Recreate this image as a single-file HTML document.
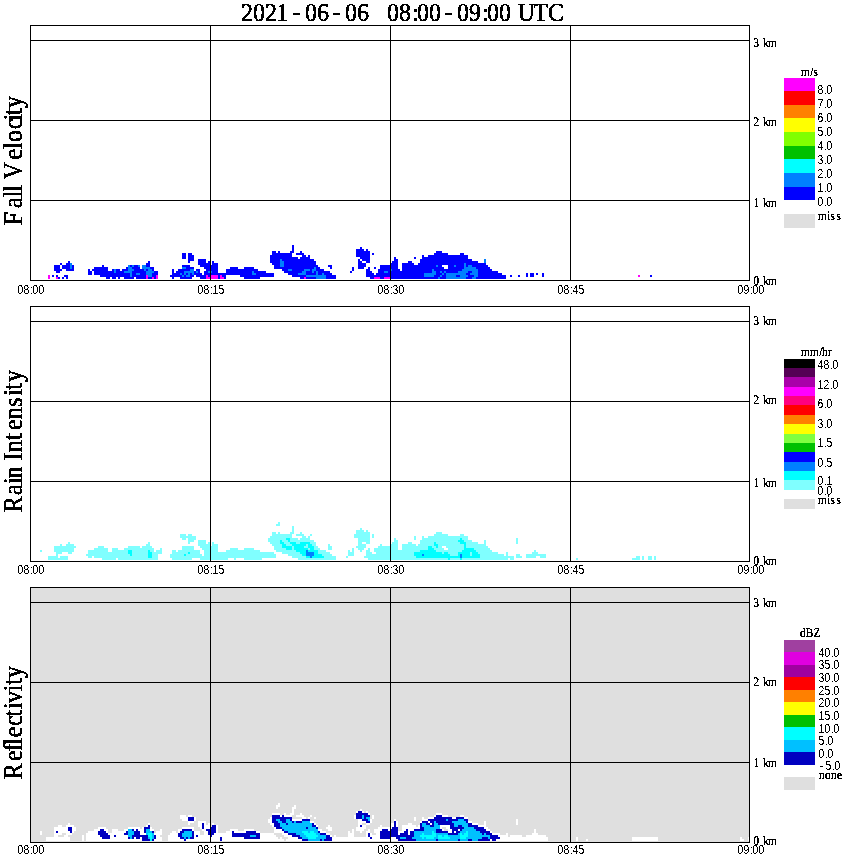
<!DOCTYPE html><html><head><meta charset="utf-8"><title>MRR 2021-06-06 08:00-09:00 UTC</title><style>html,body{margin:0;padding:0;background:#fff}svg{display:block}</style></head><body><svg width="850" height="868" viewBox="0 0 850 868" shape-rendering="crispEdges"><rect width="850" height="868" fill="#fff"/><rect x="31" y="588" width="718" height="254" fill="#dfdfdf"/><path fill="#0000ff" d="M292 245h2v2h-2zM292 247h2v2h-2zM360 247h2v2h-2zM292 249h2v2h-2zM356 249h8v2h-8zM366 249h2v2h-2zM272 251h4v2h-4zM278 251h2v2h-2zM290 251h4v2h-4zM300 251h2v2h-2zM356 251h14v2h-14zM436 251h6v2h-6zM182 253h4v2h-4zM188 253h4v2h-4zM272 253h20v2h-20zM296 253h8v2h-8zM356 253h14v2h-14zM372 253h2v2h-2zM434 253h14v2h-14zM460 253h4v2h-4zM182 255h4v2h-4zM188 255h6v2h-6zM270 255h22v2h-22zM302 255h4v2h-4zM308 255h2v2h-2zM356 255h14v2h-14zM422 255h2v2h-2zM428 255h40v2h-40zM182 257h4v2h-4zM188 257h6v2h-6zM270 257h28v2h-28zM300 257h10v2h-10zM360 257h10v2h-10zM394 257h2v2h-2zM414 257h2v2h-2zM422 257h46v2h-46zM188 259h6v2h-6zM198 259h8v2h-8zM270 259h10v2h-10zM282 259h32v2h-32zM358 259h2v2h-2zM362 259h8v2h-8zM394 259h4v2h-4zM420 259h52v2h-52zM68 261h2v2h-2zM148 261h2v2h-2zM188 261h2v2h-2zM198 261h8v2h-8zM208 261h2v2h-2zM212 261h2v2h-2zM270 261h10v2h-10zM284 261h32v2h-32zM358 261h4v2h-4zM366 261h4v2h-4zM392 261h6v2h-6zM408 261h4v2h-4zM420 261h58v2h-58zM60 263h2v2h-2zM66 263h4v2h-4zM146 263h4v2h-4zM198 263h12v2h-12zM212 263h6v2h-6zM272 263h8v2h-8zM284 263h32v2h-32zM358 263h8v2h-8zM390 263h8v2h-8zM402 263h12v2h-12zM418 263h46v2h-46zM466 263h20v2h-20zM54 265h6v2h-6zM62 265h8v2h-8zM72 265h2v2h-2zM102 265h2v2h-2zM130 265h2v2h-2zM134 265h4v2h-4zM146 265h4v2h-4zM182 265h8v2h-8zM200 265h18v2h-18zM274 265h6v2h-6zM284 265h34v2h-34zM328 265h4v2h-4zM358 265h8v2h-8zM380 265h18v2h-18zM402 265h34v2h-34zM438 265h4v2h-4zM448 265h6v2h-6zM456 265h8v2h-8zM466 265h2v2h-2zM472 265h16v2h-16zM54 267h6v2h-6zM62 267h8v2h-8zM72 267h2v2h-2zM94 267h14v2h-14zM126 267h2v2h-2zM132 267h8v2h-8zM150 267h4v2h-4zM186 267h8v2h-8zM204 267h14v2h-14zM230 267h8v2h-8zM244 267h10v2h-10zM274 267h40v2h-40zM316 267h4v2h-4zM330 267h2v2h-2zM352 267h2v2h-2zM358 267h6v2h-6zM368 267h2v2h-2zM374 267h2v2h-2zM380 267h18v2h-18zM402 267h42v2h-42zM448 267h16v2h-16zM476 267h14v2h-14zM54 269h8v2h-8zM66 269h8v2h-8zM88 269h2v2h-2zM92 269h16v2h-16zM112 269h2v2h-2zM116 269h4v2h-4zM122 269h6v2h-6zM134 269h10v2h-10zM146 269h2v2h-2zM152 269h2v2h-2zM172 269h2v2h-2zM178 269h12v2h-12zM196 269h4v2h-4zM206 269h12v2h-12zM226 269h32v2h-32zM282 269h6v2h-6zM292 269h12v2h-12zM310 269h2v2h-2zM316 269h8v2h-8zM352 269h2v2h-2zM366 269h4v2h-4zM378 269h12v2h-12zM392 269h8v2h-8zM402 269h30v2h-30zM434 269h28v2h-28zM478 269h14v2h-14zM56 271h4v2h-4zM88 271h4v2h-4zM94 271h20v2h-20zM116 271h8v2h-8zM132 271h14v2h-14zM154 271h4v2h-4zM172 271h2v2h-2zM176 271h8v2h-8zM194 271h2v2h-2zM198 271h2v2h-2zM204 271h4v2h-4zM212 271h6v2h-6zM226 271h26v2h-26zM254 271h12v2h-12zM284 271h18v2h-18zM306 271h6v2h-6zM314 271h2v2h-2zM318 271h12v2h-12zM350 271h2v2h-2zM366 271h6v2h-6zM378 271h6v2h-6zM388 271h44v2h-44zM436 271h4v2h-4zM442 271h2v2h-2zM446 271h12v2h-12zM468 271h4v2h-4zM478 271h20v2h-20zM88 273h4v2h-4zM94 273h36v2h-36zM132 273h4v2h-4zM140 273h6v2h-6zM152 273h6v2h-6zM172 273h8v2h-8zM182 273h2v2h-2zM186 273h2v2h-2zM190 273h2v2h-2zM194 273h8v2h-8zM204 273h48v2h-48zM256 273h18v2h-18zM288 273h10v2h-10zM306 273h10v2h-10zM318 273h4v2h-4zM324 273h8v2h-8zM366 273h8v2h-8zM376 273h48v2h-48zM436 273h6v2h-6zM444 273h2v2h-2zM466 273h4v2h-4zM478 273h24v2h-24zM526 273h2v2h-2zM530 273h4v2h-4zM536 273h2v2h-2zM542 273h2v2h-2zM52 275h2v2h-2zM56 275h2v2h-2zM64 275h4v2h-4zM100 275h30v2h-30zM132 275h14v2h-14zM152 275h4v2h-4zM170 275h12v2h-12zM184 275h2v2h-2zM190 275h4v2h-4zM196 275h10v2h-10zM208 275h2v2h-2zM218 275h2v2h-2zM222 275h4v2h-4zM240 275h34v2h-34zM292 275h14v2h-14zM326 275h10v2h-10zM366 275h58v2h-58zM434 275h6v2h-6zM442 275h4v2h-4zM456 275h4v2h-4zM468 275h6v2h-6zM478 275h28v2h-28zM510 275h2v2h-2zM518 275h2v2h-2zM526 275h2v2h-2zM530 275h4v2h-4zM542 275h2v2h-2zM650 275h2v2h-2zM58 277h2v2h-2zM62 277h2v2h-2zM66 277h2v2h-2zM106 277h4v2h-4zM112 277h4v2h-4zM118 277h2v2h-2zM124 277h10v2h-10zM136 277h10v2h-10zM148 277h4v2h-4zM154 277h2v2h-2zM172 277h2v2h-2zM180 277h12v2h-12zM200 277h6v2h-6zM218 277h2v2h-2zM224 277h2v2h-2zM244 277h16v2h-16zM300 277h4v2h-4zM306 277h10v2h-10zM326 277h10v2h-10zM370 277h4v2h-4zM380 277h4v2h-4zM390 277h48v2h-48zM440 277h6v2h-6zM466 277h6v2h-6zM476 277h30v2h-30z"/><path fill="#0080ff" d="M280 259h2v2h-2zM484 259h2v2h-2zM280 261h4v2h-4zM484 261h2v2h-2zM70 263h2v2h-2zM280 263h4v2h-4zM464 263h2v2h-2zM70 265h2v2h-2zM128 265h2v2h-2zM132 265h2v2h-2zM138 265h2v2h-2zM142 265h4v2h-4zM280 265h4v2h-4zM436 265h2v2h-2zM454 265h2v2h-2zM464 265h2v2h-2zM468 265h4v2h-4zM70 267h2v2h-2zM128 267h4v2h-4zM142 267h8v2h-8zM182 267h4v2h-4zM314 267h2v2h-2zM464 267h12v2h-12zM114 269h2v2h-2zM128 269h6v2h-6zM144 269h2v2h-2zM148 269h4v2h-4zM190 269h4v2h-4zM288 269h4v2h-4zM304 269h6v2h-6zM312 269h4v2h-4zM390 269h2v2h-2zM432 269h2v2h-2zM462 269h16v2h-16zM114 271h2v2h-2zM124 271h8v2h-8zM146 271h8v2h-8zM184 271h10v2h-10zM196 271h2v2h-2zM208 271h4v2h-4zM252 271h2v2h-2zM302 271h4v2h-4zM312 271h2v2h-2zM316 271h2v2h-2zM384 271h4v2h-4zM432 271h4v2h-4zM440 271h2v2h-2zM444 271h2v2h-2zM458 271h10v2h-10zM472 271h6v2h-6zM130 273h2v2h-2zM136 273h4v2h-4zM146 273h6v2h-6zM180 273h2v2h-2zM184 273h2v2h-2zM188 273h2v2h-2zM192 273h2v2h-2zM252 273h4v2h-4zM298 273h8v2h-8zM316 273h2v2h-2zM322 273h2v2h-2zM424 273h12v2h-12zM442 273h2v2h-2zM446 273h20v2h-20zM470 273h8v2h-8zM130 275h2v2h-2zM148 275h4v2h-4zM182 275h2v2h-2zM186 275h4v2h-4zM306 275h20v2h-20zM424 275h10v2h-10zM440 275h2v2h-2zM446 275h10v2h-10zM460 275h8v2h-8zM474 275h4v2h-4zM316 277h10v2h-10zM438 277h2v2h-2zM446 277h20v2h-20zM472 277h4v2h-4z"/><path fill="#ff00ff" d="M48 275h2v2h-2zM146 275h2v2h-2zM156 275h2v2h-2zM206 275h2v2h-2zM210 275h8v2h-8zM220 275h2v2h-2zM638 275h2v2h-2zM48 277h2v2h-2zM56 277h2v2h-2zM146 277h2v2h-2zM152 277h2v2h-2zM156 277h2v2h-2zM206 277h12v2h-12zM220 277h4v2h-4zM304 277h2v2h-2zM374 277h6v2h-6zM384 277h6v2h-6z"/><path fill="#80ffff" d="M278 522h2v2h-2zM276 524h4v2h-4zM292 526h2v2h-2zM292 528h2v2h-2zM360 528h2v2h-2zM292 530h2v2h-2zM356 530h8v2h-8zM366 530h2v2h-2zM272 532h4v2h-4zM278 532h2v2h-2zM290 532h4v2h-4zM300 532h2v2h-2zM356 532h14v2h-14zM436 532h6v2h-6zM180 534h6v2h-6zM188 534h4v2h-4zM272 534h20v2h-20zM296 534h8v2h-8zM310 534h2v2h-2zM354 534h16v2h-16zM372 534h2v2h-2zM434 534h14v2h-14zM460 534h4v2h-4zM180 536h16v2h-16zM270 536h22v2h-22zM302 536h4v2h-4zM308 536h2v2h-2zM354 536h16v2h-16zM372 536h2v2h-2zM414 536h2v2h-2zM422 536h2v2h-2zM428 536h40v2h-40zM182 538h4v2h-4zM188 538h8v2h-8zM268 538h18v2h-18zM290 538h8v2h-8zM300 538h10v2h-10zM358 538h12v2h-12zM394 538h2v2h-2zM414 538h2v2h-2zM422 538h38v2h-38zM462 538h6v2h-6zM516 538h2v2h-2zM188 540h6v2h-6zM198 540h8v2h-8zM268 540h12v2h-12zM282 540h6v2h-6zM290 540h24v2h-24zM358 540h12v2h-12zM394 540h4v2h-4zM420 540h38v2h-38zM464 540h8v2h-8zM484 540h2v2h-2zM516 540h2v2h-2zM68 542h2v2h-2zM148 542h2v2h-2zM188 542h2v2h-2zM198 542h8v2h-8zM208 542h2v2h-2zM212 542h2v2h-2zM270 542h10v2h-10zM284 542h6v2h-6zM296 542h4v2h-4zM310 542h6v2h-6zM358 542h4v2h-4zM366 542h4v2h-4zM392 542h6v2h-6zM408 542h4v2h-4zM420 542h14v2h-14zM436 542h24v2h-24zM466 542h12v2h-12zM484 542h2v2h-2zM516 542h2v2h-2zM60 544h2v2h-2zM66 544h8v2h-8zM146 544h4v2h-4zM198 544h12v2h-12zM212 544h6v2h-6zM272 544h10v2h-10zM286 544h6v2h-6zM306 544h2v2h-2zM312 544h4v2h-4zM328 544h2v2h-2zM358 544h8v2h-8zM380 544h2v2h-2zM390 544h8v2h-8zM402 544h14v2h-14zM418 544h16v2h-16zM438 544h26v2h-26zM466 544h20v2h-20zM54 546h22v2h-22zM98 546h6v2h-6zM128 546h12v2h-12zM142 546h10v2h-10zM182 546h12v2h-12zM200 546h18v2h-18zM274 546h8v2h-8zM292 546h2v2h-2zM304 546h4v2h-4zM314 546h4v2h-4zM328 546h4v2h-4zM356 546h10v2h-10zM378 546h20v2h-20zM402 546h26v2h-26zM432 546h4v2h-4zM438 546h4v2h-4zM446 546h18v2h-18zM466 546h22v2h-22zM54 548h20v2h-20zM94 548h14v2h-14zM112 548h6v2h-6zM124 548h30v2h-30zM160 548h2v2h-2zM182 548h12v2h-12zM202 548h16v2h-16zM230 548h8v2h-8zM244 548h10v2h-10zM274 548h12v2h-12zM292 548h2v2h-2zM308 548h2v2h-2zM314 548h6v2h-6zM328 548h4v2h-4zM352 548h2v2h-2zM358 548h6v2h-6zM368 548h2v2h-2zM374 548h24v2h-24zM402 548h26v2h-26zM434 548h10v2h-10zM448 548h16v2h-16zM474 548h16v2h-16zM40 550h2v2h-2zM54 550h20v2h-20zM88 550h20v2h-20zM112 550h16v2h-16zM132 550h16v2h-16zM150 550h4v2h-4zM156 550h6v2h-6zM172 550h4v2h-4zM178 550h22v2h-22zM204 550h14v2h-14zM226 550h34v2h-34zM276 550h20v2h-20zM318 550h8v2h-8zM348 550h2v2h-2zM352 550h2v2h-2zM360 550h2v2h-2zM366 550h4v2h-4zM374 550h46v2h-46zM436 550h26v2h-26zM476 550h16v2h-16zM534 550h2v2h-2zM56 552h6v2h-6zM68 552h4v2h-4zM88 552h40v2h-40zM132 552h16v2h-16zM152 552h10v2h-10zM172 552h16v2h-16zM190 552h10v2h-10zM204 552h70v2h-70zM282 552h18v2h-18zM318 552h12v2h-12zM348 552h6v2h-6zM366 552h6v2h-6zM376 552h38v2h-38zM442 552h2v2h-2zM448 552h10v2h-10zM470 552h2v2h-2zM478 552h20v2h-20zM506 552h2v2h-2zM532 552h6v2h-6zM56 554h2v2h-2zM86 554h44v2h-44zM132 554h16v2h-16zM152 554h6v2h-6zM170 554h14v2h-14zM186 554h16v2h-16zM204 554h72v2h-72zM288 554h14v2h-14zM322 554h10v2h-10zM348 554h6v2h-6zM366 554h48v2h-48zM450 554h8v2h-8zM470 554h2v2h-2zM480 554h24v2h-24zM506 554h2v2h-2zM516 554h4v2h-4zM526 554h20v2h-20zM48 556h10v2h-10zM60 556h8v2h-8zM88 556h4v2h-4zM94 556h54v2h-54zM152 556h6v2h-6zM170 556h106v2h-106zM292 556h14v2h-14zM324 556h12v2h-12zM346 556h2v2h-2zM364 556h52v2h-52zM480 556h34v2h-34zM516 556h6v2h-6zM526 556h10v2h-10zM540 556h6v2h-6zM636 556h4v2h-4zM642 556h2v2h-2zM648 556h4v2h-4zM654 556h2v2h-2zM48 558h20v2h-20zM102 558h14v2h-14zM118 558h40v2h-40zM172 558h20v2h-20zM200 558h28v2h-28zM234 558h2v2h-2zM244 558h18v2h-18zM298 558h38v2h-38zM368 558h80v2h-80zM450 558h10v2h-10zM462 558h46v2h-46zM510 558h4v2h-4zM576 558h2v2h-2zM632 558h8v2h-8zM642 558h2v2h-2zM648 558h4v2h-4zM654 558h2v2h-2z"/><path fill="#00ffff" d="M286 538h4v2h-4zM460 538h2v2h-2zM280 540h2v2h-2zM288 540h2v2h-2zM458 540h6v2h-6zM280 542h4v2h-4zM290 542h6v2h-6zM300 542h10v2h-10zM434 542h2v2h-2zM460 542h6v2h-6zM282 544h4v2h-4zM292 544h14v2h-14zM308 544h4v2h-4zM434 544h4v2h-4zM464 544h2v2h-2zM282 546h10v2h-10zM294 546h10v2h-10zM308 546h6v2h-6zM428 546h4v2h-4zM436 546h2v2h-2zM464 546h2v2h-2zM286 548h6v2h-6zM294 548h14v2h-14zM310 548h4v2h-4zM428 548h6v2h-6zM464 548h10v2h-10zM128 550h4v2h-4zM148 550h2v2h-2zM296 550h10v2h-10zM308 550h10v2h-10zM420 550h16v2h-16zM462 550h14v2h-14zM128 552h4v2h-4zM148 552h4v2h-4zM188 552h2v2h-2zM300 552h6v2h-6zM314 552h4v2h-4zM414 552h28v2h-28zM444 552h4v2h-4zM458 552h12v2h-12zM472 552h6v2h-6zM130 554h2v2h-2zM148 554h4v2h-4zM184 554h2v2h-2zM302 554h4v2h-4zM314 554h8v2h-8zM414 554h8v2h-8zM424 554h26v2h-26zM458 554h2v2h-2zM462 554h8v2h-8zM472 554h8v2h-8zM148 556h4v2h-4zM306 556h4v2h-4zM312 556h12v2h-12zM416 556h44v2h-44zM462 556h18v2h-18zM448 558h2v2h-2zM460 558h2v2h-2z"/><path fill="#0080ff" d="M306 550h2v2h-2zM306 552h8v2h-8zM306 554h8v2h-8zM422 554h2v2h-2zM460 554h2v2h-2zM310 556h2v2h-2zM460 556h2v2h-2z"/><path fill="#ffffff" d="M278 803h2v2h-2zM276 805h4v2h-4zM294 805h2v2h-2zM276 807h2v2h-2zM292 807h4v2h-4zM292 809h2v2h-2zM360 809h2v2h-2zM292 811h2v2h-2zM356 811h2v2h-2zM362 811h2v2h-2zM366 811h2v2h-2zM272 813h8v2h-8zM284 813h2v2h-2zM290 813h4v2h-4zM300 813h2v2h-2zM368 813h2v2h-2zM436 813h6v2h-6zM180 815h6v2h-6zM188 815h4v2h-4zM280 815h2v2h-2zM284 815h8v2h-8zM296 815h8v2h-8zM310 815h2v2h-2zM354 815h2v2h-2zM372 815h2v2h-2zM434 815h2v2h-2zM442 815h6v2h-6zM460 815h4v2h-4zM180 817h8v2h-8zM194 817h2v2h-2zM270 817h2v2h-2zM302 817h4v2h-4zM308 817h2v2h-2zM314 817h2v2h-2zM354 817h2v2h-2zM372 817h2v2h-2zM414 817h2v2h-2zM422 817h2v2h-2zM428 817h6v2h-6zM452 817h4v2h-4zM464 817h4v2h-4zM182 819h6v2h-6zM194 819h2v2h-2zM268 819h4v2h-4zM292 819h10v2h-10zM358 819h4v2h-4zM370 819h2v2h-2zM394 819h2v2h-2zM414 819h2v2h-2zM422 819h6v2h-6zM516 819h2v2h-2zM188 821h6v2h-6zM198 821h8v2h-8zM268 821h4v2h-4zM310 821h4v2h-4zM358 821h8v2h-8zM370 821h2v2h-2zM396 821h2v2h-2zM420 821h2v2h-2zM428 821h2v2h-2zM468 821h4v2h-4zM484 821h2v2h-2zM516 821h2v2h-2zM68 823h2v2h-2zM148 823h2v2h-2zM188 823h2v2h-2zM198 823h4v2h-4zM204 823h2v2h-2zM208 823h2v2h-2zM212 823h2v2h-2zM270 823h4v2h-4zM314 823h2v2h-2zM358 823h4v2h-4zM366 823h4v2h-4zM390 823h4v2h-4zM396 823h2v2h-2zM408 823h4v2h-4zM430 823h2v2h-2zM472 823h6v2h-6zM484 823h2v2h-2zM516 823h2v2h-2zM58 825h4v2h-4zM66 825h8v2h-8zM146 825h2v2h-2zM198 825h4v2h-4zM204 825h6v2h-6zM216 825h2v2h-2zM272 825h2v2h-2zM316 825h2v2h-2zM328 825h2v2h-2zM358 825h2v2h-2zM362 825h4v2h-4zM380 825h2v2h-2zM390 825h4v2h-4zM396 825h2v2h-2zM402 825h14v2h-14zM418 825h2v2h-2zM440 825h10v2h-10zM478 825h8v2h-8zM54 827h14v2h-14zM72 827h4v2h-4zM98 827h8v2h-8zM128 827h12v2h-12zM142 827h2v2h-2zM150 827h2v2h-2zM182 827h12v2h-12zM200 827h2v2h-2zM204 827h6v2h-6zM216 827h2v2h-2zM274 827h2v2h-2zM326 827h6v2h-6zM356 827h10v2h-10zM378 827h14v2h-14zM402 827h18v2h-18zM440 827h2v2h-2zM446 827h4v2h-4zM484 827h4v2h-4zM54 829h14v2h-14zM72 829h4v2h-4zM94 829h6v2h-6zM104 829h4v2h-4zM112 829h6v2h-6zM124 829h4v2h-4zM134 829h2v2h-2zM138 829h6v2h-6zM150 829h4v2h-4zM160 829h2v2h-2zM178 829h4v2h-4zM192 829h2v2h-2zM202 829h4v2h-4zM216 829h2v2h-2zM230 829h8v2h-8zM244 829h10v2h-10zM274 829h8v2h-8zM318 829h4v2h-4zM328 829h4v2h-4zM352 829h2v2h-2zM356 829h8v2h-8zM368 829h2v2h-2zM374 829h8v2h-8zM388 829h2v2h-2zM402 829h4v2h-4zM408 829h6v2h-6zM442 829h2v2h-2zM448 829h4v2h-4zM458 829h2v2h-2zM486 829h4v2h-4zM534 829h2v2h-2zM40 831h2v2h-2zM54 831h2v2h-2zM58 831h12v2h-12zM72 831h2v2h-2zM88 831h10v2h-10zM106 831h2v2h-2zM112 831h14v2h-14zM140 831h4v2h-4zM156 831h6v2h-6zM172 831h4v2h-4zM178 831h2v2h-2zM194 831h6v2h-6zM204 831h4v2h-4zM216 831h2v2h-2zM226 831h6v2h-6zM234 831h12v2h-12zM256 831h4v2h-4zM274 831h10v2h-10zM320 831h6v2h-6zM348 831h2v2h-2zM352 831h2v2h-2zM360 831h2v2h-2zM366 831h4v2h-4zM374 831h6v2h-6zM398 831h6v2h-6zM408 831h2v2h-2zM448 831h4v2h-4zM454 831h2v2h-2zM490 831h2v2h-2zM534 831h2v2h-2zM40 833h2v2h-2zM54 833h8v2h-8zM66 833h6v2h-6zM86 833h12v2h-12zM108 833h16v2h-16zM140 833h6v2h-6zM154 833h8v2h-8zM170 833h8v2h-8zM194 833h6v2h-6zM204 833h4v2h-4zM214 833h18v2h-18zM260 833h14v2h-14zM282 833h6v2h-6zM326 833h4v2h-4zM348 833h6v2h-6zM366 833h2v2h-2zM370 833h2v2h-2zM376 833h4v2h-4zM398 833h2v2h-2zM408 833h2v2h-2zM492 833h8v2h-8zM506 833h2v2h-2zM532 833h6v2h-6zM54 835h4v2h-4zM64 835h4v2h-4zM82 835h2v2h-2zM86 835h14v2h-14zM110 835h4v2h-4zM116 835h12v2h-12zM156 835h4v2h-4zM168 835h10v2h-10zM194 835h2v2h-2zM198 835h12v2h-12zM212 835h20v2h-20zM260 835h16v2h-16zM284 835h8v2h-8zM330 835h2v2h-2zM334 835h2v2h-2zM348 835h6v2h-6zM366 835h2v2h-2zM370 835h10v2h-10zM498 835h10v2h-10zM510 835h12v2h-12zM526 835h20v2h-20zM46 837h24v2h-24zM82 837h2v2h-2zM86 837h16v2h-16zM110 837h18v2h-18zM134 837h2v2h-2zM140 837h2v2h-2zM156 837h6v2h-6zM168 837h12v2h-12zM194 837h26v2h-26zM222 837h22v2h-22zM260 837h18v2h-18zM280 837h2v2h-2zM288 837h10v2h-10zM332 837h38v2h-38zM372 837h8v2h-8zM390 837h6v2h-6zM500 837h48v2h-48zM576 837h2v2h-2zM632 837h26v2h-26zM740 837h2v2h-2zM748 837h2v2h-2zM46 839h24v2h-24zM82 839h2v2h-2zM86 839h56v2h-56zM154 839h8v2h-8zM168 839h16v2h-16zM186 839h34v2h-34zM222 839h62v2h-62zM286 839h16v2h-16zM332 839h66v2h-66zM490 839h2v2h-2zM496 839h52v2h-52zM576 839h2v2h-2zM586 839h2v2h-2zM632 839h26v2h-26zM740 839h4v2h-4zM748 839h2v2h-2z"/><path fill="#0000c0" d="M358 811h4v2h-4zM356 813h12v2h-12zM272 815h8v2h-8zM282 815h2v2h-2zM356 815h6v2h-6zM364 815h6v2h-6zM436 815h6v2h-6zM188 817h6v2h-6zM272 817h20v2h-20zM356 817h6v2h-6zM364 817h2v2h-2zM434 817h18v2h-18zM456 817h8v2h-8zM188 819h6v2h-6zM272 819h4v2h-4zM280 819h6v2h-6zM290 819h2v2h-2zM302 819h8v2h-8zM362 819h6v2h-6zM428 819h18v2h-18zM448 819h10v2h-10zM464 819h4v2h-4zM272 821h6v2h-6zM282 821h4v2h-4zM292 821h2v2h-2zM296 821h6v2h-6zM366 821h4v2h-4zM394 821h2v2h-2zM422 821h6v2h-6zM430 821h4v2h-4zM436 821h16v2h-16zM466 821h2v2h-2zM202 823h2v2h-2zM274 823h6v2h-6zM286 823h2v2h-2zM312 823h2v2h-2zM394 823h2v2h-2zM420 823h2v2h-2zM426 823h4v2h-4zM432 823h2v2h-2zM438 823h16v2h-16zM468 823h4v2h-4zM148 825h2v2h-2zM202 825h2v2h-2zM212 825h4v2h-4zM274 825h6v2h-6zM312 825h4v2h-4zM360 825h2v2h-2zM394 825h2v2h-2zM420 825h2v2h-2zM430 825h4v2h-4zM450 825h4v2h-4zM458 825h4v2h-4zM468 825h10v2h-10zM68 827h4v2h-4zM144 827h6v2h-6zM202 827h2v2h-2zM210 827h6v2h-6zM276 827h6v2h-6zM306 827h2v2h-2zM316 827h2v2h-2zM392 827h6v2h-6zM420 827h4v2h-4zM450 827h14v2h-14zM474 827h10v2h-10zM68 829h4v2h-4zM100 829h4v2h-4zM132 829h2v2h-2zM136 829h2v2h-2zM144 829h2v2h-2zM182 829h10v2h-10zM206 829h10v2h-10zM282 829h2v2h-2zM382 829h6v2h-6zM390 829h8v2h-8zM406 829h2v2h-2zM414 829h10v2h-10zM436 829h6v2h-6zM452 829h6v2h-6zM460 829h2v2h-2zM476 829h10v2h-10zM56 831h2v2h-2zM70 831h2v2h-2zM98 831h8v2h-8zM126 831h2v2h-2zM134 831h6v2h-6zM144 831h2v2h-2zM152 831h2v2h-2zM180 831h4v2h-4zM192 831h2v2h-2zM208 831h8v2h-8zM232 831h2v2h-2zM246 831h10v2h-10zM284 831h4v2h-4zM318 831h2v2h-2zM380 831h18v2h-18zM404 831h4v2h-4zM410 831h4v2h-4zM436 831h12v2h-12zM452 831h2v2h-2zM456 831h4v2h-4zM480 831h10v2h-10zM98 833h10v2h-10zM124 833h4v2h-4zM134 833h6v2h-6zM178 833h4v2h-4zM192 833h2v2h-2zM208 833h6v2h-6zM232 833h28v2h-28zM288 833h8v2h-8zM320 833h6v2h-6zM368 833h2v2h-2zM380 833h18v2h-18zM400 833h8v2h-8zM410 833h4v2h-4zM448 833h10v2h-10zM482 833h2v2h-2zM486 833h6v2h-6zM100 835h10v2h-10zM114 835h2v2h-2zM132 835h16v2h-16zM154 835h2v2h-2zM178 835h4v2h-4zM192 835h2v2h-2zM196 835h2v2h-2zM210 835h2v2h-2zM232 835h18v2h-18zM256 835h4v2h-4zM292 835h8v2h-8zM326 835h4v2h-4zM368 835h2v2h-2zM380 835h34v2h-34zM490 835h8v2h-8zM102 837h8v2h-8zM128 837h2v2h-2zM132 837h2v2h-2zM136 837h4v2h-4zM142 837h6v2h-6zM154 837h2v2h-2zM180 837h4v2h-4zM186 837h2v2h-2zM190 837h4v2h-4zM220 837h2v2h-2zM244 837h16v2h-16zM298 837h4v2h-4zM326 837h6v2h-6zM370 837h2v2h-2zM380 837h10v2h-10zM396 837h4v2h-4zM406 837h6v2h-6zM482 837h6v2h-6zM490 837h10v2h-10zM142 839h8v2h-8zM152 839h2v2h-2zM184 839h2v2h-2zM220 839h2v2h-2zM302 839h6v2h-6zM320 839h2v2h-2zM324 839h8v2h-8zM398 839h18v2h-18zM436 839h2v2h-2zM458 839h2v2h-2zM468 839h4v2h-4zM478 839h12v2h-12zM492 839h4v2h-4z"/><path fill="#00c0ff" d="M362 815h2v2h-2zM362 817h2v2h-2zM366 817h4v2h-4zM276 819h4v2h-4zM286 819h4v2h-4zM368 819h2v2h-2zM446 819h2v2h-2zM458 819h6v2h-6zM278 821h4v2h-4zM286 821h6v2h-6zM294 821h2v2h-2zM302 821h8v2h-8zM434 821h2v2h-2zM452 821h14v2h-14zM280 823h6v2h-6zM288 823h24v2h-24zM422 823h4v2h-4zM434 823h4v2h-4zM454 823h14v2h-14zM280 825h32v2h-32zM422 825h8v2h-8zM434 825h6v2h-6zM454 825h4v2h-4zM462 825h6v2h-6zM282 827h24v2h-24zM308 827h8v2h-8zM424 827h16v2h-16zM464 827h10v2h-10zM128 829h4v2h-4zM146 829h4v2h-4zM284 829h34v2h-34zM424 829h12v2h-12zM462 829h14v2h-14zM128 831h6v2h-6zM146 831h6v2h-6zM184 831h8v2h-8zM288 831h14v2h-14zM308 831h2v2h-2zM314 831h4v2h-4zM414 831h18v2h-18zM434 831h2v2h-2zM460 831h6v2h-6zM468 831h12v2h-12zM128 833h6v2h-6zM146 833h2v2h-2zM152 833h2v2h-2zM182 833h10v2h-10zM296 833h8v2h-8zM316 833h4v2h-4zM414 833h8v2h-8zM424 833h8v2h-8zM436 833h12v2h-12zM458 833h2v2h-2zM462 833h2v2h-2zM468 833h14v2h-14zM484 833h2v2h-2zM128 835h4v2h-4zM152 835h2v2h-2zM182 835h10v2h-10zM250 835h6v2h-6zM300 835h6v2h-6zM318 835h8v2h-8zM414 835h6v2h-6zM436 835h2v2h-2zM442 835h2v2h-2zM448 835h12v2h-12zM468 835h22v2h-22zM130 837h2v2h-2zM148 837h2v2h-2zM152 837h2v2h-2zM184 837h2v2h-2zM188 837h2v2h-2zM302 837h6v2h-6zM316 837h10v2h-10zM400 837h6v2h-6zM412 837h10v2h-10zM424 837h2v2h-2zM434 837h4v2h-4zM450 837h10v2h-10zM466 837h16v2h-16zM488 837h2v2h-2zM308 839h12v2h-12zM322 839h2v2h-2zM416 839h20v2h-20zM438 839h20v2h-20zM460 839h8v2h-8zM472 839h6v2h-6z"/><path fill="#00ffff" d="M302 831h6v2h-6zM310 831h4v2h-4zM432 831h2v2h-2zM466 831h2v2h-2zM148 833h4v2h-4zM304 833h12v2h-12zM422 833h2v2h-2zM432 833h4v2h-4zM460 833h2v2h-2zM464 833h4v2h-4zM148 835h4v2h-4zM306 835h12v2h-12zM420 835h16v2h-16zM438 835h4v2h-4zM444 835h4v2h-4zM460 835h8v2h-8zM150 837h2v2h-2zM308 837h8v2h-8zM422 837h2v2h-2zM426 837h8v2h-8zM438 837h12v2h-12zM460 837h6v2h-6zM150 839h2v2h-2z"/><path fill="#000" d="M30 25h720v1h-720zM30 40h720v1h-720zM30 120h720v1h-720zM30 200h720v1h-720zM30 280h720v1h-720zM30 25h1v256h-1zM210 25h1v256h-1zM390 25h1v256h-1zM570 25h1v256h-1zM749 25h1v256h-1z"/><path fill="#000" d="M30 306h720v1h-720zM30 321h720v1h-720zM30 401h720v1h-720zM30 481h720v1h-720zM30 561h720v1h-720zM30 306h1v256h-1zM210 306h1v256h-1zM390 306h1v256h-1zM570 306h1v256h-1zM749 306h1v256h-1z"/><path fill="#000" d="M30 587h720v1h-720zM30 602h720v1h-720zM30 682h720v1h-720zM30 762h720v1h-720zM30 842h720v1h-720zM30 587h1v256h-1zM210 587h1v256h-1zM390 587h1v256h-1zM570 587h1v256h-1zM749 587h1v256h-1z"/><rect x="784" y="78" width="31" height="13" fill="#ff00ff"/><rect x="784" y="91" width="31" height="14" fill="#ff0000"/><rect x="784" y="105" width="31" height="13" fill="#ff8000"/><rect x="784" y="118" width="31" height="14" fill="#ffff00"/><rect x="784" y="132" width="31" height="14" fill="#80ff00"/><rect x="784" y="146" width="31" height="13" fill="#00c000"/><rect x="784" y="159" width="31" height="14" fill="#00ffff"/><rect x="784" y="173" width="31" height="14" fill="#0080ff"/><rect x="784" y="187" width="31" height="13" fill="#0000ff"/><rect x="784" y="214" width="31" height="14" fill="#dfdfdf"/><rect x="784" y="359" width="31" height="9" fill="#000000"/><rect x="784" y="368" width="31" height="9" fill="#550055"/><rect x="784" y="377" width="31" height="10" fill="#aa00aa"/><rect x="784" y="387" width="31" height="9" fill="#ff00ff"/><rect x="784" y="396" width="31" height="9" fill="#ff0080"/><rect x="784" y="405" width="31" height="10" fill="#ff0000"/><rect x="784" y="415" width="31" height="9" fill="#ff8000"/><rect x="784" y="424" width="31" height="10" fill="#ffff00"/><rect x="784" y="434" width="31" height="9" fill="#80ff40"/><rect x="784" y="443" width="31" height="9" fill="#00c000"/><rect x="784" y="452" width="31" height="10" fill="#0000ff"/><rect x="784" y="462" width="31" height="9" fill="#0080ff"/><rect x="784" y="471" width="31" height="9" fill="#00ffff"/><rect x="784" y="480" width="31" height="10" fill="#80ffff"/><rect x="784" y="499" width="31" height="10" fill="#dfdfdf"/><rect x="784" y="640" width="31" height="12" fill="#a040a0"/><rect x="784" y="652" width="31" height="13" fill="#e000e0"/><rect x="784" y="665" width="31" height="12" fill="#a000a0"/><rect x="784" y="677" width="31" height="13" fill="#ff0000"/><rect x="784" y="690" width="31" height="12" fill="#ff8000"/><rect x="784" y="702" width="31" height="13" fill="#ffff00"/><rect x="784" y="715" width="31" height="12" fill="#00c000"/><rect x="784" y="727" width="31" height="13" fill="#00ffff"/><rect x="784" y="740" width="31" height="12" fill="#00c0ff"/><rect x="784" y="752" width="31" height="13" fill="#0000c0"/><rect x="784" y="777" width="31" height="13" fill="#dfdfdf"/><defs><filter id="px" x="0" y="0" width="850" height="868" filterUnits="userSpaceOnUse" color-interpolation-filters="sRGB"><feComponentTransfer><feFuncA type="discrete" tableValues="0 0 0 0 0 0 0 0 0 0 0 0 0 1 1 1 1 1 1 1 1 1 1 1 1 1 1 1 1 1 1 1 1 1 1 1 1 1 1 1"/></feComponentTransfer></filter><filter id="ps" x="0" y="0" width="850" height="868" filterUnits="userSpaceOnUse" color-interpolation-filters="sRGB"><feComponentTransfer><feFuncA type="discrete" tableValues="0 0 0 0 0 0 0 0 0 0 0 0 0 0 0 0 0 0 0 0 1 1 1 1 1 1 1 1 1 1 1 1 1 1 1 1 1 1 1 1"/></feComponentTransfer></filter><filter id="pr" x="0" y="0" width="850" height="868" filterUnits="userSpaceOnUse" color-interpolation-filters="sRGB"><feComponentTransfer><feFuncA type="discrete" tableValues="0 0 0 0 0 0 0 0 0 0 0 0 0 0 1 1 1 1 1 1 1 1 1 1 1 1 1 1 1 1 1 1 1 1 1 1 1 1 1 1"/></feComponentTransfer></filter></defs><g shape-rendering="auto" fill="#000" filter="url(#px)"><g transform="translate(0,21) scale(1,1.08)" stroke="#000" stroke-width="0.2" font-family="'Liberation Serif',serif" font-size="24"><text y="0" x="241 253 265 276.4 292.5 305 317 332.5 345 357" dy="0 0 0 0 -0.8 0.8 0 -0.8 0.8 0">2021-06-06</text><text y="0" x="387 399 412.2 417 429 444.5 457 469 482.2 487 499 511 517.5 533.5 548" dy="0 0 0 0 0 -0.8 0.8 0 0 0 0 0 0 0 0">08:00-09:00 UTC</text></g><text transform="translate(22,0) rotate(-90) scale(1,1.12)" x="-225.3 -208.1 -197.2 -191.5 -185.0 -179.4 -159.5 -149.0 -141.9 -129.3 -120.6 -114.9 -108.0" y="0" font-family="'Liberation Serif',serif" font-size="24" stroke="#000" stroke-width="0.2">Fall Velocity</text><text transform="translate(22,0) rotate(-90) scale(1,1.12)" x="-512.3 -495.1 -484.1 -478.4 -467.0 -460.7 -452.3 -440.0 -430.1 -419.3 -406.8 -395.8 -389.7 -381.9" y="0" font-family="'Liberation Serif',serif" font-size="24" stroke="#000" stroke-width="0.2">Rain Intensity</text><text transform="translate(22,0) rotate(-90) scale(1,1.12)" x="-779.3 -761.0 -751.2 -744.4 -737.2 -725.9 -716.6 -709.0 -703.0 -691.3 -684.7 -677.9" y="0" font-family="'Liberation Serif',serif" font-size="24" stroke="#000" stroke-width="0.2">Reflectivity</text></g><g fill="#000" filter="url(#ps)" font-family="'Liberation Sans',sans-serif" font-size="10.46" text-rendering="auto"><text transform="translate(0,293.87) scale(1,1.214)" y="0" x="17.59 23.59 30.05 32.59 38.59">08:00</text><text transform="translate(0,293.87) scale(1,1.214)" y="0" x="197.59 203.59 210.05 212.59 218.59">08:15</text><text transform="translate(0,293.87) scale(1,1.214)" y="0" x="377.59 383.59 390.05 392.59 398.59">08:30</text><text transform="translate(0,293.87) scale(1,1.214)" y="0" x="557.59 563.59 570.05 572.59 578.59">08:45</text><text transform="translate(0,293.87) scale(1,1.214)" y="0" x="737.59 743.59 750.05 752.59 758.59">09:00</text><text transform="translate(0,573.87) scale(1,1.214)" y="0" x="17.59 23.59 30.05 32.59 38.59">08:00</text><text transform="translate(0,573.87) scale(1,1.214)" y="0" x="197.59 203.59 210.05 212.59 218.59">08:15</text><text transform="translate(0,573.87) scale(1,1.214)" y="0" x="377.59 383.59 390.05 392.59 398.59">08:30</text><text transform="translate(0,573.87) scale(1,1.214)" y="0" x="557.59 563.59 570.05 572.59 578.59">08:45</text><text transform="translate(0,573.87) scale(1,1.214)" y="0" x="737.59 743.59 750.05 752.59 758.59">09:00</text><text transform="translate(0,853.87) scale(1,1.214)" y="0" x="17.59 23.59 30.05 32.59 38.59">08:00</text><text transform="translate(0,853.87) scale(1,1.214)" y="0" x="197.59 203.59 210.05 212.59 218.59">08:15</text><text transform="translate(0,853.87) scale(1,1.214)" y="0" x="377.59 383.59 390.05 392.59 398.59">08:30</text><text transform="translate(0,853.87) scale(1,1.214)" y="0" x="557.59 563.59 570.05 572.59 578.59">08:45</text><text transform="translate(0,853.87) scale(1,1.214)" y="0" x="737.59 743.59 750.05 752.59 758.59">09:00</text><text transform="translate(0,93.87) scale(1,1.214)" y="0" x="817.59 824.05 826.59">8.0</text><text transform="translate(0,107.87) scale(1,1.214)" y="0" x="817.59 824.05 826.59">7.0</text><text transform="translate(0,121.87) scale(1,1.214)" y="0" x="817.59 824.05 826.59">6.0</text><text transform="translate(0,135.87) scale(1,1.214)" y="0" x="817.59 824.05 826.59">5.0</text><text transform="translate(0,149.87) scale(1,1.214)" y="0" x="817.59 824.05 826.59">4.0</text><text transform="translate(0,163.87) scale(1,1.214)" y="0" x="817.59 824.05 826.59">3.0</text><text transform="translate(0,177.87) scale(1,1.214)" y="0" x="817.59 824.05 826.59">2.0</text><text transform="translate(0,191.87) scale(1,1.214)" y="0" x="817.59 824.05 826.59">1.0</text><text transform="translate(0,205.87) scale(1,1.214)" y="0" x="817.59 824.05 826.59">0.0</text><text transform="translate(0,368.87) scale(1,1.214)" y="0" x="817.59 823.59 830.05 832.59">48.0</text><text transform="translate(0,388.87) scale(1,1.214)" y="0" x="817.59 823.59 830.05 832.59">12.0</text><text transform="translate(0,407.87) scale(1,1.214)" y="0" x="817.59 824.05 826.59">6.0</text><text transform="translate(0,427.87) scale(1,1.214)" y="0" x="817.59 824.05 826.59">3.0</text><text transform="translate(0,446.87) scale(1,1.214)" y="0" x="817.59 824.05 826.59">1.5</text><text transform="translate(0,466.87) scale(1,1.214)" y="0" x="817.59 824.05 826.59">0.5</text><text transform="translate(0,484.87) scale(1,1.214)" y="0" x="817.59 824.05 826.59">0.1</text><text transform="translate(0,494.87) scale(1,1.214)" y="0" x="817.59 824.05 826.59">0.0</text><text transform="translate(0,656.87) scale(1,1.214)" y="0" x="818.59 824.59 831.05 833.59">40.0</text><text transform="translate(0,668.87) scale(1,1.214)" y="0" x="818.59 824.59 831.05 833.59">35.0</text><text transform="translate(0,681.87) scale(1,1.214)" y="0" x="818.59 824.59 831.05 833.59">30.0</text><text transform="translate(0,694.87) scale(1,1.214)" y="0" x="818.59 824.59 831.05 833.59">25.0</text><text transform="translate(0,706.87) scale(1,1.214)" y="0" x="818.59 824.59 831.05 833.59">20.0</text><text transform="translate(0,719.87) scale(1,1.214)" y="0" x="818.59 824.59 831.05 833.59">15.0</text><text transform="translate(0,732.87) scale(1,1.214)" y="0" x="818.59 824.59 831.05 833.59">10.0</text><text transform="translate(0,744.87) scale(1,1.214)" y="0" x="818.59 825.05 827.59">5.0</text><text transform="translate(0,757.87) scale(1,1.214)" y="0" x="818.59 825.05 827.59">0.0</text><text transform="translate(0,769.87) scale(1,1.214)" y="0" x="819.8 825.59 832.05 834.59">-5.0</text></g><g fill="#000" stroke="#000" stroke-width="0.1" filter="url(#pr)" font-family="'Liberation Serif',serif" font-size="11.3" text-rendering="geometricPrecision"><text transform="translate(0,47.12) scale(1,1.15)" y="0" x="753.46 757.46 763.0 768.1">3 km</text><text transform="translate(0,126.12) scale(1,1.15)" y="0" x="753.46 757.46 763.0 768.1">2 km</text><text transform="translate(0,207.12) scale(1,1.15)" y="0" x="753.46 757.46 763.0 768.1">1 km</text><text transform="translate(0,285.12) scale(1,1.15)" y="0" x="753.46 757.46 763.0 768.1">0 km</text><text transform="translate(0,325.12) scale(1,1.15)" y="0" x="753.46 757.46 763.0 768.1">3 km</text><text transform="translate(0,404.12) scale(1,1.15)" y="0" x="753.46 757.46 763.0 768.1">2 km</text><text transform="translate(0,487.12) scale(1,1.15)" y="0" x="753.46 757.46 763.0 768.1">1 km</text><text transform="translate(0,565.12) scale(1,1.15)" y="0" x="753.46 757.46 763.0 768.1">0 km</text><text transform="translate(0,607.12) scale(1,1.15)" y="0" x="753.46 757.46 763.0 768.1">3 km</text><text transform="translate(0,686.12) scale(1,1.15)" y="0" x="753.46 757.46 763.0 768.1">2 km</text><text transform="translate(0,767.12) scale(1,1.15)" y="0" x="753.46 757.46 763.0 768.1">1 km</text><text transform="translate(0,845.12) scale(1,1.15)" y="0" x="753.46 757.46 763.0 768.1">0 km</text><text transform="translate(0,220.12) scale(1,1.15)" y="0" x="818.1 826.9 830.5 836.5">miss</text><text transform="translate(0,76.12) scale(1,1.15)" y="0" x="801.1 810.2 813.5">m/s</text><text transform="translate(0,504.12) scale(1,1.15)" y="0" x="818.1 826.9 830.5 836.5">miss</text><text transform="translate(0,356.12) scale(1,1.15)" y="0" x="801.1 810.1 819.2 822.1 828.1">mm/hr</text><text transform="translate(0,779.12) scale(1,1.15)" y="0" x="819.1 825.0 831.1 837.0">none</text><text transform="translate(0,637.12) scale(1,1.15)" y="0" x="800.05 805.7 813.5">dBZ</text></g></svg></body></html>
